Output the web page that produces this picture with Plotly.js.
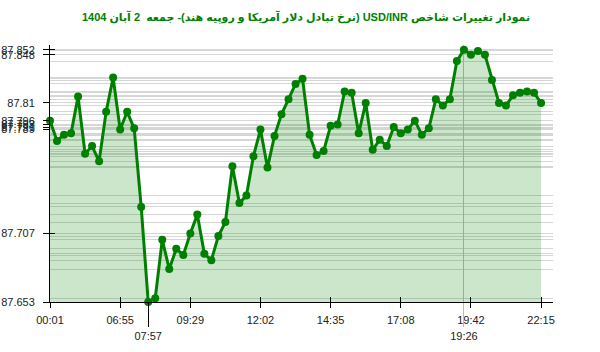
<!DOCTYPE html>
<html>
<head>
<meta charset="utf-8">
<script src="https://cdn.plot.ly/plotly-3.0.1.min.js"></script>
<style>html,body{margin:0;padding:0;background:#fff;}#chart{width:600px;height:352px;}</style>
</head>
<body>
<div id="chart"></div>
<script>
// Data
const titleText = 'نمودار تغییرات شاخص USD/INR (نرخ تبادل دلار آمریکا و روپیه هند)- جمعه  2 آبان 1404';
const values = [
  87.796, 87.780, 87.785, 87.786, 87.815, 87.770, 87.776, 87.764, 87.803, 87.830,
  87.789, 87.803, 87.790, 87.728, 87.653, 87.656, 87.702, 87.679, 87.695, 87.690,
  87.707, 87.722, 87.691, 87.686, 87.705, 87.716, 87.760, 87.731, 87.737, 87.768,
  87.789, 87.759, 87.784, 87.801, 87.813, 87.825, 87.829, 87.785, 87.769, 87.772,
  87.792, 87.793, 87.819, 87.818, 87.786, 87.810, 87.773, 87.781, 87.776, 87.791,
  87.786, 87.789, 87.796, 87.785, 87.790, 87.813, 87.808, 87.813, 87.843, 87.852,
  87.848, 87.851, 87.848, 87.828, 87.810, 87.808, 87.816, 87.818, 87.819, 87.818,
  87.810
];
const xTickIdx = [0, 10, 20, 30, 40, 50, 60, 70];
const xTickLabels = ['00:01', '06:55', '09:29', '12:02', '14:35', '17:08', '19:42', '22:15'];
const minIdx = [14];
const minLabel = ['07:57'];
const maxIdx = [59];
const maxLabel = ['19:26'];
const yTickVals = [87.653, 87.707, 87.789, 87.791, 87.793, 87.796, 87.81, 87.848, 87.852];
const yTickLabels = ['87.653', '87.707', '87.789', '87.791', '87.793', '87.796', '87.81', '87.848', '87.852'];
const yCrossTicks = [87.707, 87.848, 87.852];

const xs = values.map((_, i) => i);
const xRange = [0, 71.7];
const yRange = [87.653, 87.8557];
const tickFont = {family: 'Liberation Sans, Arial, sans-serif', size: 11, color: '#222'};

const trace = {
  x: xs, y: values, type: 'scatter', mode: 'lines+markers',
  line: {color: 'rgb(0,128,0)', width: 3},
  marker: {color: 'rgb(0,128,0)', size: 8},
  fill: 'tozeroy', fillcolor: 'rgba(0,128,0,0.2)',
  hoverinfo: 'skip', cliponaxis: false
};
// invisible helper traces so the overlay axes (grid lines, extra ticks) get drawn
function helper(xa, ya) {
  return {x: [xs[0]], y: [values[0]], xaxis: xa, yaxis: ya, type: 'scatter', mode: 'markers',
          marker: {opacity: 0, size: 1}, hoverinfo: 'skip', showlegend: false};
}
const traces = [helper('x', 'y2'), helper('x', 'y3'), helper('x2', 'y'), helper('x3', 'y'), helper('x4', 'y'), trace];

const layout = {
  width: 600, height: 352,
  margin: {l: 50, r: 47, t: 45, b: 50},
  paper_bgcolor: '#fff', plot_bgcolor: 'rgba(0,0,0,0)',
  showlegend: false,
  title: {
    text: '<b>\u202B' + titleText + '\u202C</b>',
    font: {family: 'Liberation Sans, DejaVu Sans, sans-serif', size: 11, color: 'rgb(0,128,0)'},
    x: 0.51, xanchor: 'center', y: 0.952, yanchor: 'middle'
  },
  xaxis: {
    range: xRange, tickmode: 'array', tickvals: xTickIdx, ticktext: xTickLabels,
    ticks: 'outside', ticklen: 5, tickwidth: 1, tickcolor: '#000',
    showline: true, linecolor: '#000', linewidth: 1,
    showgrid: false, zeroline: false, tickfont: tickFont, ticklabelstandoff: 3
  },
  xaxis2: {
    overlaying: 'x', anchor: 'y', range: xRange, tickmode: 'array', tickvals: xTickIdx,
    ticks: 'inside', ticklen: 5, tickcolor: '#000', showticklabels: false,
    showline: false, showgrid: false, zeroline: false
  },
  xaxis3: {
    overlaying: 'x', anchor: 'y', side: 'bottom', range: xRange, tickmode: 'array', tickvals: minIdx, ticktext: minLabel,
    ticks: 'outside', ticklen: 24, tickcolor: '#000', showline: false, showgrid: false,
    zeroline: false, tickfont: tickFont
  },
  xaxis4: {
    overlaying: 'x', anchor: 'y', side: 'bottom', range: xRange, tickmode: 'array', tickvals: maxIdx, ticktext: maxLabel,
    ticks: 'outside', ticklen: 24, tickcolor: '#bbb', showline: false, showgrid: true,
    gridcolor: '#bbb', gridwidth: 1, zeroline: false, tickfont: tickFont
  },
  yaxis: {
    range: yRange, tickmode: 'array', tickvals: yTickVals, ticktext: yTickLabels,
    ticks: 'outside', ticklen: 6, tickcolor: '#000',
    showline: true, linecolor: '#000', linewidth: 1,
    showgrid: false, zeroline: false, tickfont: tickFont, ticklabelstandoff: 6
  },
  yaxis2: {
    overlaying: 'y', anchor: 'x', side: 'left', range: yRange, tickmode: 'array', tickvals: values,
    ticks: '', showticklabels: false, showline: false,
    showgrid: true, gridcolor: 'rgba(180,180,180,0.55)', gridwidth: 1, zeroline: false
  },
  yaxis3: {
    overlaying: 'y', anchor: 'x', side: 'left', range: yRange, tickmode: 'array', tickvals: yCrossTicks,
    ticks: 'inside', ticklen: 5, tickcolor: '#000', showticklabels: false,
    showline: false, showgrid: false, zeroline: false
  }
};

Plotly.newPlot('chart', traces, layout, {staticPlot: true, displayModeBar: false});
</script>
</body>
</html>
